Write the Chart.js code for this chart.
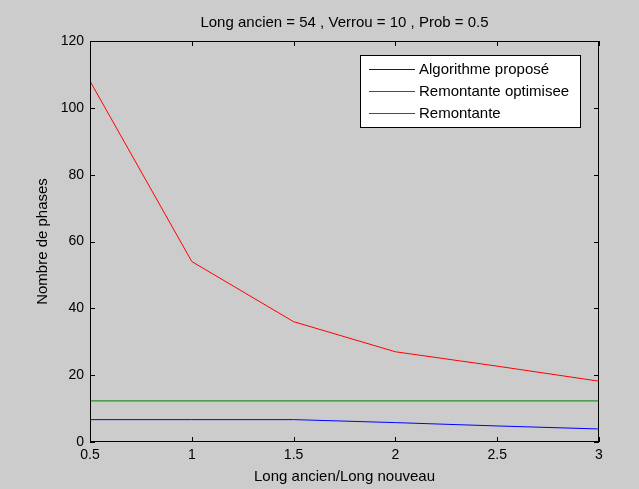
<!DOCTYPE html>
<html>
<head>
<meta charset="utf-8">
<script src="https://cdn.jsdelivr.net/npm/chart.js@4.4.1/dist/chart.umd.min.js"></script>
<style>
  html, body { margin: 0; padding: 0; background: #cccccc; }
  #wrap { width: 639px; height: 489px; }
</style>
</head>
<body>
<div id="wrap"><canvas id="chart" width="639" height="489"></canvas></div>
<script>
// ---- données ----
const ratios = [0.5, 1, 1.5, 2, 2.5, 3];
const algoPropose = [6.7, 6.7, 6.7, 5.8, 4.8, 3.9];
const remontanteOptimisee = [12.3, 12.3, 12.3, 12.3, 12.3, 12.3];
const remontante = [108, 54, 36, 27, 22.7, 18.2];
const xTicks = [0.5, 1, 1.5, 2, 2.5, 3];
const yTicks = [0, 20, 40, 60, 80, 100, 120];

const titre = "Long ancien = 54 , Verrou = 10 , Prob = 0.5";
const FONT = "'Liberation Sans', Arial, sans-serif";

function pts(ys) {
  return ratios.map((x, i) => ({ x: x, y: ys[i] }));
}

// cadre style MATLAB : boîte, graduations vers l'intérieur, légende
const matlabFrame = {
  id: "matlabFrame",
  afterDatasetsDraw(chart) {
    const ctx = chart.ctx;
    const a = chart.chartArea;
    const sx = chart.scales.x, sy = chart.scales.y;
    const len = 5;
    ctx.save();
    ctx.strokeStyle = "#000";
    ctx.lineWidth = 1;
    ctx.strokeRect(Math.round(a.left) + 0.5, Math.round(a.top) + 0.5,
      Math.round(a.right - a.left) - 1, Math.round(a.bottom - a.top) - 1);
    ctx.beginPath();
    xTicks.forEach(v => {
      const px = Math.round(sx.getPixelForValue(v)) + 0.5;
      ctx.moveTo(px, a.bottom); ctx.lineTo(px, a.bottom - len);
      ctx.moveTo(px, a.top); ctx.lineTo(px, a.top + len);
    });
    yTicks.forEach(v => {
      const py = Math.round(sy.getPixelForValue(v)) + 0.5;
      ctx.moveTo(a.left, py); ctx.lineTo(a.left + len, py);
      ctx.moveTo(a.right, py); ctx.lineTo(a.right - len, py);
    });
    ctx.stroke();

    // légende
    const bx = 360.5, by = 55.5, bw = 220, bh = 72;
    ctx.fillStyle = "#fff";
    ctx.fillRect(bx, by, bw, bh);
    ctx.strokeRect(bx, by, bw, bh);
    ctx.font = "15px " + FONT;
    ctx.textBaseline = "middle";
    chart.data.datasets.forEach((ds, i) => {
      const y = Math.round(69 + i * 22) + 0.5;
      ctx.strokeStyle = ds.borderColor;
      ctx.beginPath();
      ctx.moveTo(369, y); ctx.lineTo(415, y);
      ctx.stroke();
      ctx.fillStyle = "#000";
      ctx.fillText(ds.label, 419, y);
    });
    ctx.restore();
  }
};

new Chart(document.getElementById("chart"), {
  type: "line",
  data: {
    datasets: [
      { label: "Algorithme proposé", data: pts(algoPropose), borderColor: "#0000ff" },
      { label: "Remontante optimisee", data: pts(remontanteOptimisee), borderColor: "#008000" },
      { label: "Remontante", data: pts(remontante), borderColor: "#ff0000" }
    ]
  },
  options: {
    responsive: false,
    devicePixelRatio: 1,
    animation: false,
    elements: {
      line: { borderWidth: 1, tension: 0 },
      point: { radius: 0 }
    },
    layout: { padding: { top: 0, left: 0, right: 40, bottom: 0 } },
    plugins: {
      legend: { display: false },
      tooltip: { enabled: false },
      title: {
        display: true,
        fullSize: false,
        text: titre,
        color: "#000",
        font: { family: FONT, size: 15, weight: "normal", lineHeight: 1.2 },
        padding: { top: 13.5, bottom: 9.5 }
      }
    },
    scales: {
      x: {
        type: "linear",
        min: 0.5, max: 3,
        afterFit(s) { s.height = 47; },
        afterBuildTicks(s) { s.ticks = xTicks.map(v => ({ value: v })); },
        grid: { display: false, drawTicks: false },
        border: { display: false },
        ticks: { color: "#000", padding: 5, font: { family: FONT, size: 14 },
          callback: v => String(v) },
        title: { display: true, text: "Long ancien/Long nouveau", color: "#000",
          font: { family: FONT, size: 15, lineHeight: 1.2 }, padding: { top: 0, bottom: 3.5 } }
      },
      y: {
        min: 0, max: 120,
        afterFit(s) { s.width = 90; },
        afterBuildTicks(s) { s.ticks = yTicks.map(v => ({ value: v })); },
        grid: { display: false, drawTicks: false },
        border: { display: false },
        ticks: { color: "#000", padding: 6, font: { family: FONT, size: 14 } },
        title: { display: true, text: "Nombre de phases", color: "#000",
          font: { family: FONT, size: 15, lineHeight: 1.2 }, padding: { top: 33.5, bottom: 0 } }
      }
    }
  },
  plugins: [matlabFrame]
});
</script>
</body>
</html>
